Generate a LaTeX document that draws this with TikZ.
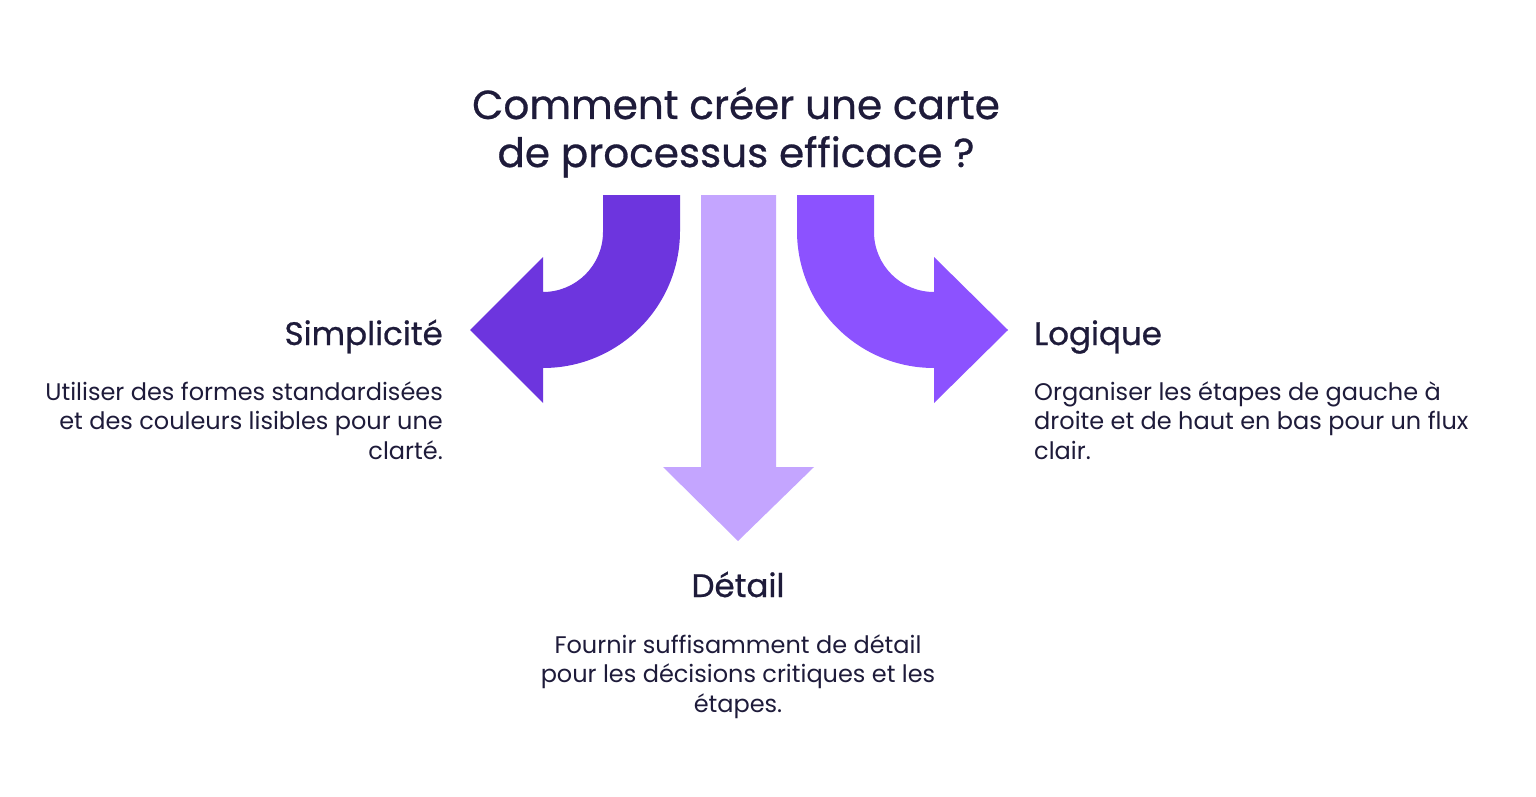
\documentclass[tikz,border=0pt]{standalone}
\usepackage{fontspec}
\setmainfont{Poppins}
\newfontfamily\medfont{Poppins}[FakeBold=0.7]
\usetikzlibrary{positioning}
\definecolor{ink}{HTML}{1E1B3A}
\definecolor{darkviolet}{HTML}{6D35DE}
\definecolor{midviolet}{HTML}{8C52FF}
\definecolor{lightviolet}{HTML}{C4A5FF}
\begin{document}
\begin{tikzpicture}[x=1pt,y=-1pt,
    heading/.style={text=ink, font=\medfont\fontsize{32.5}{38}\selectfont, inner sep=0pt},
    body/.style={text=ink, font=\fontsize{24}{29.5}\selectfont, inner sep=0pt}]
  \useasboundingbox[fill=white] (0,0) rectangle (1536,797);

  % Arrows
  \fill[darkviolet] (603,195) -- (680,195) -- (680,231)
    arc[start angle=0, end angle=90, radius=137] -- (543,403) -- (470,330) -- (543,257)
    -- (543,292) arc[start angle=90, end angle=0, radius=60] -- cycle;
  \fill[midviolet] (874,195) -- (797,195) -- (797,231)
    arc[start angle=180, end angle=90, radius=137] -- (934,403) -- (1008,330) -- (934,257)
    -- (934,292) arc[start angle=90, end angle=180, radius=60] -- cycle;
  \fill[lightviolet] (701,195) -- (776,195) -- (776,467) -- (814,467) -- (738,541)
    -- (663,467) -- (701,467) -- cycle;

  % Title
  \node[text=ink, font=\medfont\fontsize{40.5}{48}\selectfont, align=center, inner sep=0pt, anchor=base]
    (title) at (736,167) {Comment créer une carte\\de processus efficace ?};

  % Simplicité
  \node[heading, anchor=base east] (simp) at (443,345) {Simplicité};
  \node[body, align=right, anchor=base east] (simptext) at (443,459)
    {Utiliser des formes standardisées\\et des couleurs lisibles pour une\\clarté.};

  % Logique
  \node[heading, anchor=base west] (logi) at (1034,345) {Logique};
  \node[body, align=left, anchor=base west] (logitext) at (1034,459)
    {Organiser les étapes de gauche à\\droite et de haut en bas pour un flux\\clair.};

  % Détail
  \node[heading, anchor=base] (deta) at (738,597) {Détail};
  \node[body, align=center, anchor=base] (detatext) at (738,712)
    {Fournir suffisamment de détail\\pour les décisions critiques et les\\étapes.};
\end{tikzpicture}
\end{document}
